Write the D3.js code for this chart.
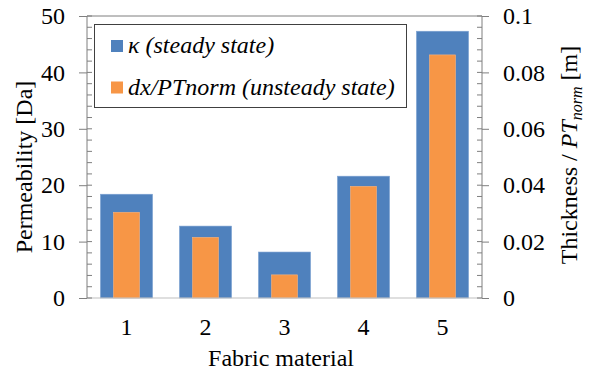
<!DOCTYPE html>
<html><head><meta charset="utf-8">
<script src="https://cdn.jsdelivr.net/npm/d3@7"></script>
<style>body{margin:0;background:#fff}svg{display:block}svg text{font-family:"Liberation Serif","Times New Roman",serif !important}</style>
</head><body><svg id="c" width="595" height="374"></svg>
<script>
const categories = ["1","2","3","4","5"];
const permeability = [18.4, 12.75, 8.15, 21.6, 47.3];
const thickness = [0.0304, 0.0215, 0.0082, 0.0396, 0.0862];
const leftTicks = [0,10,20,30,40,50];
const rightTicks = [0,0.02,0.04,0.06,0.08,0.1];
const rightTickLabels = ["0","0.02","0.04","0.06","0.08","0.1"];
const seriesNames = ["κ (steady state)", "dx/PTnorm (unsteady state)"];
const colors = ["#4F81BD", "#F79646"];

const FS = 24;
const svg = d3.select("#c");
const L = 87, R = 482, T = 16, B = 298;
const x = d3.scaleBand().domain(categories).range([L, R]).paddingInner(0.34).paddingOuter(0.17);
const yL = d3.scaleLinear().domain([0, 50]).range([B, T]);
const yR = d3.scaleLinear().domain([0, 0.1]).range([B, T]);
const axisCol = "#7f7f7f";

svg.append("line").attr("x1", L).attr("x2", R).attr("y1", T).attr("y2", T).attr("stroke", axisCol).attr("stroke-width", 1);

const bw = x.bandwidth();
svg.selectAll(".b1").data(permeability).join("rect")
  .attr("x", (d,i) => x(categories[i])).attr("width", bw)
  .attr("y", d => yL(d)).attr("height", d => B - yL(d))
  .attr("fill", colors[0]).attr("stroke", "#7fa3d3").attr("stroke-width", 0.6);
svg.selectAll(".b2").data(thickness).join("rect")
  .attr("x", (d,i) => x(categories[i]) + bw/4).attr("width", bw/2)
  .attr("y", d => yR(d)).attr("height", d => B - yR(d))
  .attr("fill", colors[1]).attr("stroke", "#f9b57f").attr("stroke-width", 0.6);

svg.append("line").attr("x1", L).attr("x2", R).attr("y1", B).attr("y2", B).attr("stroke", "#bfbfbf").attr("stroke-width", 1.2);

const gl = svg.append("g").attr("transform", `translate(${L},0)`);
gl.call(d3.axisLeft(yL).tickValues(leftTicks).tickSize(8).tickPadding(14).tickFormat(d3.format("d")));
gl.attr("font-family", null).attr("font-size", null);
gl.call(g => g.select(".domain").attr("stroke", axisCol).attr("d", `M0,${T}V${B}`));
gl.selectAll(".tick line").attr("stroke", axisCol);
gl.selectAll(".tick text").attr("font-size", FS).attr("fill", "#000");
gl.selectAll(".minor").data(d3.range(0, 51, 2)).join("line").attr("class", "minor")
  .attr("x1", 0).attr("x2", 5).attr("y1", d => yL(d)).attr("y2", d => yL(d)).attr("stroke", axisCol);

const gr = svg.append("g").attr("transform", `translate(${R},0)`);
gr.call(d3.axisRight(yR).tickValues(rightTicks).tickSize(7).tickPadding(14).tickFormat((d,i) => rightTickLabels[i]));
gr.attr("font-family", null).attr("font-size", null);
gr.call(g => g.select(".domain").attr("stroke", axisCol).attr("d", `M0,${T}V${B}`));
gr.selectAll(".tick line").attr("stroke", axisCol);
gr.selectAll(".tick text").attr("font-size", FS).attr("fill", "#000");
gr.selectAll(".minor").data(d3.range(0, 51, 2)).join("line").attr("class", "minor")
  .attr("x1", 0).attr("x2", -5).attr("y1", d => yL(d)).attr("y2", d => yL(d)).attr("stroke", axisCol);

svg.selectAll(".xl").data(categories).join("text")
  .attr("x", d => x(d) + bw/2).attr("y", 335).attr("text-anchor", "middle")
  .attr("font-size", FS).text(d => d);
svg.append("text").attr("x", 281).attr("y", 366).attr("text-anchor", "middle")
  .attr("font-size", FS).text("Fabric material");

svg.append("text").attr("transform", `translate(32,167) rotate(-90)`).attr("text-anchor", "middle")
  .attr("font-size", FS).text("Permeability [Da]");
const rt = svg.append("text").attr("transform", `translate(577,155) rotate(-90)`).attr("text-anchor", "middle")
  .attr("font-size", FS);
rt.append("tspan").text("Thickness / ");
rt.append("tspan").attr("font-style", "italic").text("PT");
rt.append("tspan").attr("font-style", "italic").attr("font-size", 16).attr("dy", 5).text("norm");
rt.append("tspan").attr("dy", -5).text(" [m]");

const lg = svg.append("g");
lg.append("rect").attr("x", 94.5).attr("y", 24.5).attr("width", 312).attr("height", 83)
  .attr("fill", "#fff").attr("stroke", "#404040").attr("stroke-width", 1);
seriesNames.forEach((s, i) => {
  const cy = 46 + i * 41.5;
  lg.append("rect").attr("x", 111).attr("y", cy - 6).attr("width", 12).attr("height", 12).attr("fill", colors[i]);
  lg.append("text").attr("x", 128).attr("y", cy + 7).attr("font-size", FS).attr("font-style", "italic").text(s);
});
</script></body></html>
